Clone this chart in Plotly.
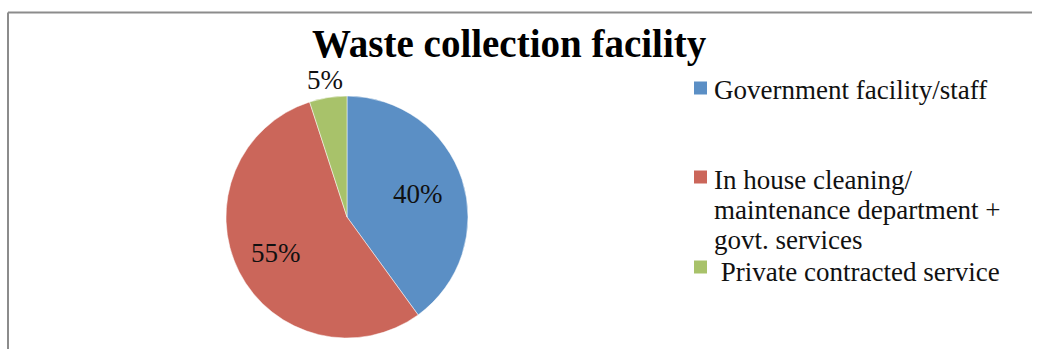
import math
import plotly.graph_objects as go

W, H = 1042, 349

categories = [
    "Government facility/staff",
    "In house cleaning/<br>maintenance department +<br>govt. services",
    " Private contracted service",
]
shares = [40, 55, 5]
colors = ["#5B8FC5", "#CB665A", "#A8C26A"]
# radial placement of each percentage label, as a fraction of the radius
label_radius = [0.62, 0.66, 1.15]

FONT = "Liberation Serif"
TXT = "#111111"

# pie geometry in pixels
cx, cy, r = 347, 217, 121

fig = go.Figure(
    go.Pie(
        labels=categories,
        values=shares,
        marker=dict(colors=colors, line=dict(color="white", width=0.5)),
        sort=False,
        direction="clockwise",
        rotation=0,
        textinfo="none",
        showlegend=False,
        hoverinfo="label+percent",
        domain=dict(
            x=[(cx - r) / W, (cx + r) / W],
            y=[(H - cy - r) / H, (H - cy + r) / H],
        ),
    )
)

annotations = [
    dict(
        text="<b>Waste collection facility</b>",
        x=509 / W, y=1 - 44 / H, xref="paper", yref="paper",
        xanchor="center", yanchor="middle", showarrow=False,
        font=dict(family=FONT, size=39, color="black"),
    )
]

# percentage labels at the middle angle of each slice
total = sum(shares)
start = 0.0
for v, f in zip(shares, label_radius):
    mid = (start + v / 2) / total * 2 * math.pi
    start += v
    px = cx + f * r * math.sin(mid)
    py = cy - f * r * math.cos(mid)
    annotations.append(dict(
        text=f"{round(100 * v / total)}%", x=px / W, y=1 - py / H,
        xref="paper", yref="paper", xanchor="center", yanchor="middle",
        showarrow=False, font=dict(family=FONT, size=27, color=TXT),
    ))

shapes = [
    # chart frame (top and left edges)
    dict(type="line", xref="paper", yref="paper",
         x0=8 / W, x1=1032 / W, y0=1 - 12.5 / H, y1=1 - 12.5 / H,
         line=dict(color="#8C8C8C", width=2)),
    dict(type="line", xref="paper", yref="paper",
         x0=8 / W, x1=8 / W, y0=1 - 12.5 / H, y1=0,
         line=dict(color="#8C8C8C", width=2)),
]

# legend drawn as swatches plus labels (one annotation per text line)
swatch_y = [88, 177, 267]       # swatch centres (px from top)
first_line_y = [90, 180, 272]   # first text line centres (px from top)
line_step = 30
for name, col, sy, ty in zip(categories, colors, swatch_y, first_line_y):
    shapes.append(dict(
        type="rect", xref="paper", yref="paper",
        x0=694 / W, x1=707 / W, y0=1 - (sy - 6.5) / H, y1=1 - (sy + 6.5) / H,
        fillcolor=col, line=dict(width=0),
    ))
    for i, line in enumerate(name.split("<br>")):
        annotations.append(dict(
            text=line.replace(" ", "&nbsp;", 1) if line.startswith(" ") else line,
            x=713 / W, y=1 - (ty + i * line_step) / H,
            xref="paper", yref="paper",
            xanchor="left", yanchor="middle", align="left", showarrow=False,
            borderpad=0,
            font=dict(family=FONT, size=27, color=TXT),
        ))

fig.update_layout(
    width=W, height=H,
    margin=dict(l=0, r=0, t=0, b=0),
    paper_bgcolor="white",
    plot_bgcolor="white",
    annotations=annotations,
    shapes=shapes,
)

fig.write_html("out.html")
